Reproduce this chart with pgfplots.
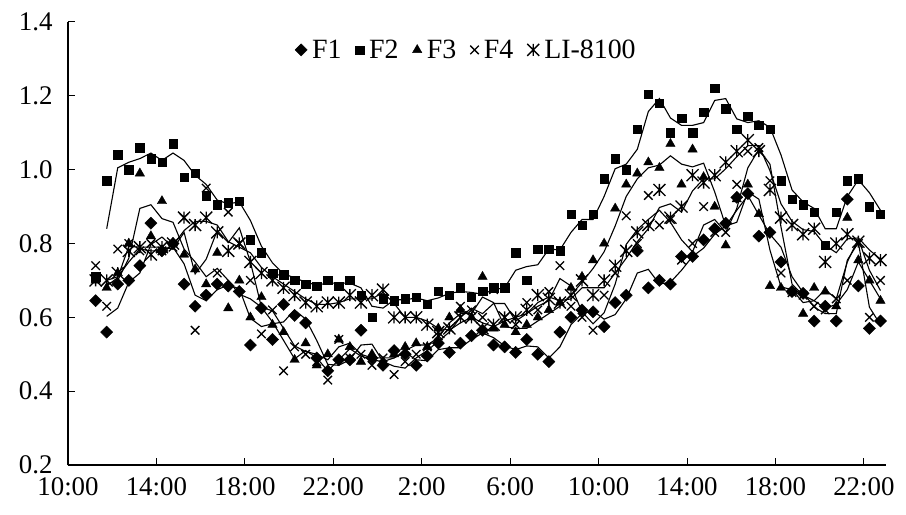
\documentclass[border=0pt]{standalone}
\usepackage{fontspec}
\setmainfont{Liberation Serif}
\usepackage{pgfplots}
\pgfplotsset{compat=1.18}
\pgfdeclareplotmark{xbar}{%
  \pgfpathmoveto{\pgfqpoint{-\pgfplotmarksize}{-\pgfplotmarksize}}%
  \pgfpathlineto{\pgfqpoint{\pgfplotmarksize}{\pgfplotmarksize}}%
  \pgfpathmoveto{\pgfqpoint{-\pgfplotmarksize}{\pgfplotmarksize}}%
  \pgfpathlineto{\pgfqpoint{\pgfplotmarksize}{-\pgfplotmarksize}}%
  \pgfpathmoveto{\pgfqpoint{0pt}{-\pgfplotmarksize}}%
  \pgfpathlineto{\pgfqpoint{0pt}{\pgfplotmarksize}}%
  \pgfusepathqstroke}
\begin{document}
\begin{tikzpicture}
\begin{axis}[
  scale only axis, width=818bp, height=443bp,
  at={(0,0)}, anchor=south west,
  xmin=0, xmax=74, ymin=0.2, ymax=1.4,
  axis x line*=bottom, axis y line*=left,
  axis line style={line width=1.4bp},
  tick align=inside, major tick length=7bp,
  tick style={line width=1bp, black},
  xtick={0,8,16,24,32,40,48,56,64,72},
  xticklabels={10:00,14:00,18:00,22:00,2:00,6:00,10:00,14:00,18:00,22:00},
  xticklabel style={yshift=-9bp},
  ytick={0.2,0.4,0.6,0.8,1.0,1.2,1.4},
  yticklabel style={/pgf/number format/fixed,/pgf/number format/fixed zerofill,/pgf/number format/precision=1,xshift=-12bp},
  /pgf/number format/assume math mode=true,
  ticklabel style={font=\fontsize{27}{29}\selectfont},
  legend style={draw=none, fill=none, at={(0.487,0.937)}, anchor=center,
    legend columns=5, font=\fontsize{28}{30}\selectfont,
    /tikz/every even column/.append style={column sep=12bp},
    /tikz/every odd column/.append style={column sep=3bp},
    legend cell align=left, inner sep=0pt},
  clip=false,
]
% F1
\addplot[only marks, mark=square*, mark size=4.3bp, mark options={rotate=45, fill=black, draw=black}] table[x=x,y=m] {
x m l
2.5 0.645 nan
3.5 0.56 0.6025
4.5 0.69 0.625
5.5 0.70 0.695
6.5 0.74 0.72
7.5 0.855 0.7975
8.5 0.78 0.8175
9.5 0.80 0.79
10.5 0.69 0.745
11.5 0.63 0.66
12.5 0.66 0.645
13.5 0.69 0.675
14.5 0.685 0.6875
15.5 0.67 0.6775
16.5 0.525 0.5975
17.5 0.625 0.575
18.5 0.54 0.5825
19.5 0.635 0.5875
20.5 0.605 0.62
21.5 0.585 0.595
22.5 0.49 0.5375
23.5 0.455 0.4725
24.5 0.485 0.47
25.5 0.485 0.485
26.5 0.565 0.525
27.5 0.49 0.5275
28.5 0.47 0.48
29.5 0.51 0.49
30.5 0.50 0.505
31.5 0.47 0.485
32.5 0.495 0.4825
33.5 0.53 0.5125
34.5 0.505 0.5175
35.5 0.53 0.5175
36.5 0.55 0.54
37.5 0.565 0.5575
38.5 0.525 0.545
39.5 0.52 0.5225
40.5 0.505 0.5125
41.5 0.54 0.5225
42.5 0.50 0.52
43.5 0.48 0.49
44.5 0.56 0.52
45.5 0.60 0.58
46.5 0.62 0.61
47.5 0.615 0.6175
48.5 0.575 0.595
49.5 0.64 0.6075
50.5 0.66 0.65
51.5 0.78 0.72
52.5 0.68 0.73
53.5 0.70 0.69
54.5 0.69 0.695
55.5 0.765 0.7275
56.5 0.765 0.765
57.5 0.81 0.7875
58.5 0.84 0.825
59.5 0.855 0.8475
60.5 0.925 0.89
61.5 0.935 0.93
62.5 0.82 0.8775
63.5 0.83 0.825
64.5 0.75 0.79
65.5 0.67 0.71
66.5 0.665 0.6675
67.5 0.59 0.6275
68.5 0.63 0.61
69.5 0.59 0.61
70.5 0.92 0.755
71.5 0.685 0.8025
72.5 0.57 0.6275
73.5 0.59 0.58
};
\addlegendentry{F1}
% F2
\addplot[only marks, mark=square*, mark size=4.2bp, mark options={fill=black, draw=black}] table[x=x,y=m] {
x m l
2.5 0.71 nan
3.5 0.97 0.84
4.5 1.04 1.005
5.5 1.00 1.02
6.5 1.06 1.03
7.5 1.03 1.045
8.5 1.02 1.025
9.5 1.07 1.045
10.5 0.98 1.025
11.5 0.99 0.985
12.5 0.93 0.96
13.5 0.905 0.9175
14.5 0.91 0.9075
15.5 0.915 0.9125
16.5 0.81 0.8625
17.5 0.775 0.7925
18.5 0.72 0.7475
19.5 0.715 0.7175
20.5 0.70 0.7075
21.5 0.69 0.695
22.5 0.685 0.6875
23.5 0.70 0.6925
24.5 0.685 0.6925
25.5 0.70 0.6925
26.5 0.66 0.68
27.5 0.60 0.63
28.5 0.65 0.625
29.5 0.645 0.6475
30.5 0.65 0.6475
31.5 0.655 0.6525
32.5 0.635 0.645
33.5 0.67 0.6525
34.5 0.66 0.665
35.5 0.68 0.67
36.5 0.655 0.6675
37.5 0.67 0.6625
38.5 0.68 0.675
39.5 0.68 0.68
40.5 0.775 0.7275
41.5 0.70 0.7375
42.5 0.785 0.7425
43.5 0.785 0.785
44.5 0.78 0.7825
45.5 0.88 0.83
46.5 0.85 0.865
47.5 0.88 0.865
48.5 0.975 0.9275
49.5 1.03 1.0025
50.5 1.00 1.015
51.5 1.11 1.055
52.5 1.205 1.1575
53.5 1.18 1.1925
54.5 1.10 1.14
55.5 1.14 1.12
56.5 1.10 1.12
57.5 1.155 1.1275
58.5 1.22 1.1875
59.5 1.165 1.1925
60.5 1.11 1.1375
61.5 1.145 1.1275
62.5 1.12 1.1325
63.5 1.11 1.115
64.5 0.97 1.04
65.5 0.92 0.945
66.5 0.905 0.9125
67.5 0.885 0.895
68.5 0.795 0.84
69.5 0.885 0.84
70.5 0.97 0.9275
71.5 0.975 0.9725
72.5 0.90 0.9375
73.5 0.88 0.89
};
\addlegendentry{F2}
% F3
\addplot[only marks, mark=triangle*, mark size=5.4bp, mark options={fill=black, draw=black}] table[x=x,y=m] {
x m l
2.5 0.70 nan
3.5 0.68 0.69
4.5 0.72 0.70
5.5 0.80 0.76
6.5 0.99 0.895
7.5 0.82 0.905
8.5 0.915 0.8675
9.5 0.80 0.8575
10.5 0.77 0.785
11.5 0.73 0.75
12.5 0.69 0.71
13.5 0.775 0.7325
14.5 0.625 0.70
15.5 0.70 0.6625
16.5 0.60 0.65
17.5 0.655 0.6275
18.5 0.58 0.6175
19.5 0.56 0.57
20.5 0.485 0.5225
21.5 0.53 0.5075
22.5 0.47 0.50
23.5 0.50 0.485
24.5 0.54 0.52
25.5 0.52 0.53
26.5 0.48 0.50
27.5 0.50 0.49
28.5 0.48 0.49
29.5 0.50 0.49
30.5 0.52 0.51
31.5 0.53 0.525
32.5 0.52 0.525
33.5 0.57 0.545
34.5 0.60 0.585
35.5 0.62 0.61
36.5 0.60 0.61
37.5 0.71 0.655
38.5 0.57 0.64
39.5 0.58 0.575
40.5 0.56 0.57
41.5 0.58 0.57
42.5 0.60 0.59
43.5 0.62 0.61
44.5 0.64 0.63
45.5 0.68 0.66
46.5 0.71 0.695
47.5 0.755 0.7325
48.5 0.80 0.7775
49.5 0.895 0.8475
50.5 0.96 0.9275
51.5 0.99 0.975
52.5 1.02 1.005
53.5 1.005 1.0125
54.5 1.07 1.0375
55.5 0.96 1.015
56.5 1.055 1.0075
57.5 0.98 1.0175
58.5 0.90 0.94
59.5 0.795 0.8475
60.5 0.92 0.8575
61.5 0.96 0.94
62.5 0.88 0.92
63.5 0.685 0.7825
64.5 0.68 0.6825
65.5 0.67 0.675
66.5 0.61 0.64
67.5 0.68 0.645
68.5 0.67 0.675
69.5 0.63 0.65
70.5 0.87 0.75
71.5 0.755 0.8125
72.5 0.70 0.7275
73.5 0.645 0.6725
};
\addlegendentry{F3}
% F4
\addplot[only marks, mark=x, mark size=6bp, mark options={draw=black, line width=1.3bp}] table[x=x,y=m] {
x m l
2.5 0.74 nan
3.5 0.63 0.685
4.5 0.785 0.7075
5.5 0.80 0.7925
6.5 0.78 0.79
7.5 0.80 0.79
8.5 0.78 0.79
9.5 0.79 0.785
10.5 0.87 0.83
11.5 0.565 0.7175
12.5 0.95 0.7575
13.5 0.72 0.835
14.5 0.885 0.8025
15.5 0.80 0.8425
16.5 0.70 0.75
17.5 0.555 0.6275
18.5 0.62 0.5875
19.5 0.455 0.5375
20.5 0.52 0.4875
21.5 0.50 0.51
22.5 0.48 0.49
23.5 0.43 0.455
24.5 0.54 0.485
25.5 0.49 0.515
26.5 0.50 0.495
27.5 0.47 0.485
28.5 0.49 0.48
29.5 0.445 0.4675
30.5 0.48 0.4625
31.5 0.50 0.49
32.5 0.52 0.51
33.5 0.55 0.535
34.5 0.57 0.56
35.5 0.63 0.60
36.5 0.62 0.625
37.5 0.60 0.61
38.5 0.675 0.6375
39.5 0.60 0.6375
40.5 0.58 0.59
41.5 0.64 0.61
42.5 0.62 0.63
43.5 0.67 0.645
44.5 0.74 0.705
45.5 0.63 0.685
46.5 0.60 0.615
47.5 0.565 0.5825
48.5 0.66 0.6125
49.5 0.72 0.69
50.5 0.875 0.7975
51.5 0.80 0.8375
52.5 0.93 0.865
53.5 0.85 0.89
54.5 0.865 0.8575
55.5 0.755 0.81
56.5 0.80 0.7775
57.5 0.90 0.85
58.5 0.83 0.865
59.5 0.83 0.83
60.5 0.96 0.895
61.5 1.05 1.005
62.5 1.06 1.055
63.5 0.97 1.015
64.5 0.72 0.845
65.5 0.667 0.69
66.5 0.66 0.66
67.5 0.63 0.645
68.5 0.62 0.625
69.5 0.65 0.635
70.5 0.70 0.675
71.5 0.80 0.75
72.5 0.60 0.70
73.5 0.70 0.65
};
\addlegendentry{F4}
% LI-8100
\addplot[only marks, mark=xbar, mark size=6bp, mark options={draw=black, line width=1.3bp}] table[x=x,y=m] {
x m l
2.5 0.70 nan
3.5 0.70 0.70
4.5 0.72 0.71
5.5 0.78 0.75
6.5 0.79 0.785
7.5 0.77 0.78
8.5 0.79 0.78
9.5 0.80 0.795
10.5 0.87 0.835
11.5 0.85 0.86
12.5 0.87 0.86
13.5 0.83 0.85
14.5 0.78 0.805
15.5 0.80 0.79
16.5 0.75 0.775
17.5 0.72 0.735
18.5 0.70 0.71
19.5 0.68 0.69
20.5 0.66 0.67
21.5 0.64 0.65
22.5 0.63 0.635
23.5 0.64 0.635
24.5 0.64 0.64
25.5 0.66 0.65
26.5 0.64 0.65
27.5 0.66 0.65
28.5 0.675 0.6675
29.5 0.60 0.6375
30.5 0.60 0.60
31.5 0.60 0.60
32.5 0.58 0.59
33.5 0.56 0.57
34.5 0.57 0.565
35.5 0.60 0.585
36.5 0.60 0.60
37.5 0.57 0.585
38.5 0.58 0.575
39.5 0.60 0.59
40.5 0.60 0.60
41.5 0.62 0.61
42.5 0.66 0.64
43.5 0.65 0.655
44.5 0.64 0.645
45.5 0.66 0.65
46.5 0.70 0.68
47.5 0.66 0.68
48.5 0.70 0.68
49.5 0.74 0.72
50.5 0.78 0.76
51.5 0.83 0.805
52.5 0.85 0.84
53.5 0.945 0.8975
54.5 0.87 0.9075
55.5 0.90 0.885
56.5 0.985 0.9425
57.5 0.965 0.975
58.5 0.985 0.975
59.5 1.02 1.0025
60.5 1.05 1.035
61.5 1.08 1.065
62.5 1.05 1.065
63.5 0.945 0.9975
64.5 0.87 0.9075
65.5 0.85 0.86
66.5 0.825 0.8375
67.5 0.84 0.8325
68.5 0.75 0.795
69.5 0.80 0.775
70.5 0.825 0.8125
71.5 0.805 0.815
72.5 0.76 0.7825
73.5 0.755 0.7575
};
\addlegendentry{LI-8100}
% moving-average lines (values typed)
\pgfplotsset{every axis plot/.append style={forget plot}}
\addplot[black, line width=1.1bp, no markers, unbounded coords=jump] table[x index=0,y index=2] {
2.5 0.645 nan
3.5 0.56 0.6025
4.5 0.69 0.625
5.5 0.70 0.695
6.5 0.74 0.72
7.5 0.855 0.7975
8.5 0.78 0.8175
9.5 0.80 0.79
10.5 0.69 0.745
11.5 0.63 0.66
12.5 0.66 0.645
13.5 0.69 0.675
14.5 0.685 0.6875
15.5 0.67 0.6775
16.5 0.525 0.5975
17.5 0.625 0.575
18.5 0.54 0.5825
19.5 0.635 0.5875
20.5 0.605 0.62
21.5 0.585 0.595
22.5 0.49 0.5375
23.5 0.455 0.4725
24.5 0.485 0.47
25.5 0.485 0.485
26.5 0.565 0.525
27.5 0.49 0.5275
28.5 0.47 0.48
29.5 0.51 0.49
30.5 0.50 0.505
31.5 0.47 0.485
32.5 0.495 0.4825
33.5 0.53 0.5125
34.5 0.505 0.5175
35.5 0.53 0.5175
36.5 0.55 0.54
37.5 0.565 0.5575
38.5 0.525 0.545
39.5 0.52 0.5225
40.5 0.505 0.5125
41.5 0.54 0.5225
42.5 0.50 0.52
43.5 0.48 0.49
44.5 0.56 0.52
45.5 0.60 0.58
46.5 0.62 0.61
47.5 0.615 0.6175
48.5 0.575 0.595
49.5 0.64 0.6075
50.5 0.66 0.65
51.5 0.78 0.72
52.5 0.68 0.73
53.5 0.70 0.69
54.5 0.69 0.695
55.5 0.765 0.7275
56.5 0.765 0.765
57.5 0.81 0.7875
58.5 0.84 0.825
59.5 0.855 0.8475
60.5 0.925 0.89
61.5 0.935 0.93
62.5 0.82 0.8775
63.5 0.83 0.825
64.5 0.75 0.79
65.5 0.67 0.71
66.5 0.665 0.6675
67.5 0.59 0.6275
68.5 0.63 0.61
69.5 0.59 0.61
70.5 0.92 0.755
71.5 0.685 0.8025
72.5 0.57 0.6275
73.5 0.59 0.58
};
\addplot[black, line width=1.1bp, no markers, unbounded coords=jump] table[x index=0,y index=2] {
2.5 0.71 nan
3.5 0.97 0.84
4.5 1.04 1.005
5.5 1.00 1.02
6.5 1.06 1.03
7.5 1.03 1.045
8.5 1.02 1.025
9.5 1.07 1.045
10.5 0.98 1.025
11.5 0.99 0.985
12.5 0.93 0.96
13.5 0.905 0.9175
14.5 0.91 0.9075
15.5 0.915 0.9125
16.5 0.81 0.8625
17.5 0.775 0.7925
18.5 0.72 0.7475
19.5 0.715 0.7175
20.5 0.70 0.7075
21.5 0.69 0.695
22.5 0.685 0.6875
23.5 0.70 0.6925
24.5 0.685 0.6925
25.5 0.70 0.6925
26.5 0.66 0.68
27.5 0.60 0.63
28.5 0.65 0.625
29.5 0.645 0.6475
30.5 0.65 0.6475
31.5 0.655 0.6525
32.5 0.635 0.645
33.5 0.67 0.6525
34.5 0.66 0.665
35.5 0.68 0.67
36.5 0.655 0.6675
37.5 0.67 0.6625
38.5 0.68 0.675
39.5 0.68 0.68
40.5 0.775 0.7275
41.5 0.70 0.7375
42.5 0.785 0.7425
43.5 0.785 0.785
44.5 0.78 0.7825
45.5 0.88 0.83
46.5 0.85 0.865
47.5 0.88 0.865
48.5 0.975 0.9275
49.5 1.03 1.0025
50.5 1.00 1.015
51.5 1.11 1.055
52.5 1.205 1.1575
53.5 1.18 1.1925
54.5 1.10 1.14
55.5 1.14 1.12
56.5 1.10 1.12
57.5 1.155 1.1275
58.5 1.22 1.1875
59.5 1.165 1.1925
60.5 1.11 1.1375
61.5 1.145 1.1275
62.5 1.12 1.1325
63.5 1.11 1.115
64.5 0.97 1.04
65.5 0.92 0.945
66.5 0.905 0.9125
67.5 0.885 0.895
68.5 0.795 0.84
69.5 0.885 0.84
70.5 0.97 0.9275
71.5 0.975 0.9725
72.5 0.90 0.9375
73.5 0.88 0.89
};
\addplot[black, line width=1.1bp, no markers, unbounded coords=jump] table[x index=0,y index=2] {
2.5 0.70 nan
3.5 0.68 0.69
4.5 0.72 0.70
5.5 0.80 0.76
6.5 0.99 0.895
7.5 0.82 0.905
8.5 0.915 0.8675
9.5 0.80 0.8575
10.5 0.77 0.785
11.5 0.73 0.75
12.5 0.69 0.71
13.5 0.775 0.7325
14.5 0.625 0.70
15.5 0.70 0.6625
16.5 0.60 0.65
17.5 0.655 0.6275
18.5 0.58 0.6175
19.5 0.56 0.57
20.5 0.485 0.5225
21.5 0.53 0.5075
22.5 0.47 0.50
23.5 0.50 0.485
24.5 0.54 0.52
25.5 0.52 0.53
26.5 0.48 0.50
27.5 0.50 0.49
28.5 0.48 0.49
29.5 0.50 0.49
30.5 0.52 0.51
31.5 0.53 0.525
32.5 0.52 0.525
33.5 0.57 0.545
34.5 0.60 0.585
35.5 0.62 0.61
36.5 0.60 0.61
37.5 0.71 0.655
38.5 0.57 0.64
39.5 0.58 0.575
40.5 0.56 0.57
41.5 0.58 0.57
42.5 0.60 0.59
43.5 0.62 0.61
44.5 0.64 0.63
45.5 0.68 0.66
46.5 0.71 0.695
47.5 0.755 0.7325
48.5 0.80 0.7775
49.5 0.895 0.8475
50.5 0.96 0.9275
51.5 0.99 0.975
52.5 1.02 1.005
53.5 1.005 1.0125
54.5 1.07 1.0375
55.5 0.96 1.015
56.5 1.055 1.0075
57.5 0.98 1.0175
58.5 0.90 0.94
59.5 0.795 0.8475
60.5 0.92 0.8575
61.5 0.96 0.94
62.5 0.88 0.92
63.5 0.685 0.7825
64.5 0.68 0.6825
65.5 0.67 0.675
66.5 0.61 0.64
67.5 0.68 0.645
68.5 0.67 0.675
69.5 0.63 0.65
70.5 0.87 0.75
71.5 0.755 0.8125
72.5 0.70 0.7275
73.5 0.645 0.6725
};
\addplot[black, line width=1.1bp, no markers, unbounded coords=jump] table[x index=0,y index=2] {
2.5 0.74 nan
3.5 0.63 0.685
4.5 0.785 0.7075
5.5 0.80 0.7925
6.5 0.78 0.79
7.5 0.80 0.79
8.5 0.78 0.79
9.5 0.79 0.785
10.5 0.87 0.83
11.5 0.565 0.7175
12.5 0.95 0.7575
13.5 0.72 0.835
14.5 0.885 0.8025
15.5 0.80 0.8425
16.5 0.70 0.75
17.5 0.555 0.6275
18.5 0.62 0.5875
19.5 0.455 0.5375
20.5 0.52 0.4875
21.5 0.50 0.51
22.5 0.48 0.49
23.5 0.43 0.455
24.5 0.54 0.485
25.5 0.49 0.515
26.5 0.50 0.495
27.5 0.47 0.485
28.5 0.49 0.48
29.5 0.445 0.4675
30.5 0.48 0.4625
31.5 0.50 0.49
32.5 0.52 0.51
33.5 0.55 0.535
34.5 0.57 0.56
35.5 0.63 0.60
36.5 0.62 0.625
37.5 0.60 0.61
38.5 0.675 0.6375
39.5 0.60 0.6375
40.5 0.58 0.59
41.5 0.64 0.61
42.5 0.62 0.63
43.5 0.67 0.645
44.5 0.74 0.705
45.5 0.63 0.685
46.5 0.60 0.615
47.5 0.565 0.5825
48.5 0.66 0.6125
49.5 0.72 0.69
50.5 0.875 0.7975
51.5 0.80 0.8375
52.5 0.93 0.865
53.5 0.85 0.89
54.5 0.865 0.8575
55.5 0.755 0.81
56.5 0.80 0.7775
57.5 0.90 0.85
58.5 0.83 0.865
59.5 0.83 0.83
60.5 0.96 0.895
61.5 1.05 1.005
62.5 1.06 1.055
63.5 0.97 1.015
64.5 0.72 0.845
65.5 0.667 0.69
66.5 0.66 0.66
67.5 0.63 0.645
68.5 0.62 0.625
69.5 0.65 0.635
70.5 0.70 0.675
71.5 0.80 0.75
72.5 0.60 0.70
73.5 0.70 0.65
};
\addplot[black, line width=1.1bp, no markers, unbounded coords=jump] table[x index=0,y index=2] {
2.5 0.70 nan
3.5 0.70 0.70
4.5 0.72 0.71
5.5 0.78 0.75
6.5 0.79 0.785
7.5 0.77 0.78
8.5 0.79 0.78
9.5 0.80 0.795
10.5 0.87 0.835
11.5 0.85 0.86
12.5 0.87 0.86
13.5 0.83 0.85
14.5 0.78 0.805
15.5 0.80 0.79
16.5 0.75 0.775
17.5 0.72 0.735
18.5 0.70 0.71
19.5 0.68 0.69
20.5 0.66 0.67
21.5 0.64 0.65
22.5 0.63 0.635
23.5 0.64 0.635
24.5 0.64 0.64
25.5 0.66 0.65
26.5 0.64 0.65
27.5 0.66 0.65
28.5 0.675 0.6675
29.5 0.60 0.6375
30.5 0.60 0.60
31.5 0.60 0.60
32.5 0.58 0.59
33.5 0.56 0.57
34.5 0.57 0.565
35.5 0.60 0.585
36.5 0.60 0.60
37.5 0.57 0.585
38.5 0.58 0.575
39.5 0.60 0.59
40.5 0.60 0.60
41.5 0.62 0.61
42.5 0.66 0.64
43.5 0.65 0.655
44.5 0.64 0.645
45.5 0.66 0.65
46.5 0.70 0.68
47.5 0.66 0.68
48.5 0.70 0.68
49.5 0.74 0.72
50.5 0.78 0.76
51.5 0.83 0.805
52.5 0.85 0.84
53.5 0.945 0.8975
54.5 0.87 0.9075
55.5 0.90 0.885
56.5 0.985 0.9425
57.5 0.965 0.975
58.5 0.985 0.975
59.5 1.02 1.0025
60.5 1.05 1.035
61.5 1.08 1.065
62.5 1.05 1.065
63.5 0.945 0.9975
64.5 0.87 0.9075
65.5 0.85 0.86
66.5 0.825 0.8375
67.5 0.84 0.8325
68.5 0.75 0.795
69.5 0.80 0.775
70.5 0.825 0.8125
71.5 0.805 0.815
72.5 0.76 0.7825
73.5 0.755 0.7575
};
\end{axis}
\path (-68bp,-50bp) rectangle (838bp,465bp);
\end{tikzpicture}
\end{document}
